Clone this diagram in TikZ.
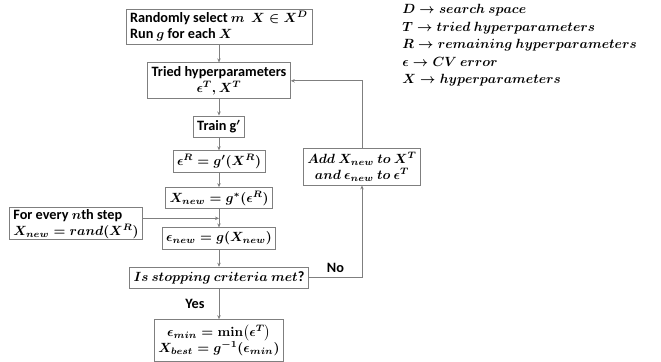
\documentclass[tikz,border=0pt]{standalone}
\usepackage{amsmath,amssymb,bm}
\usepackage[no-math]{fontspec}
\setmainfont[Scale=1.07]{Carlito}
\usetikzlibrary{positioning,calc,arrows.meta}
\definecolor{linegray}{HTML}{7F7F7F}

\begin{document}
\begin{tikzpicture}[x=0.75pt,y=-0.75pt,
  box/.style={draw=linegray,line width=0.6pt,font=\bfseries\boldmath,align=center,
    inner xsep=3pt,inner ysep=1pt,minimum height=16pt},
  arr/.style={draw=linegray,line width=0.6pt,-{Stealth[length=3pt,width=2.6pt]}}]
\useasboundingbox (0,0) rectangle (661,361);
% NODE 1: random initial sample
\node[box,align=left,minimum height=26.25pt] (init) at (219,26.5) {Randomly select $m$\ \ $X\in X^{D}$\\Run $g$ for each $X$};
% NODE 2: tried set
\node[box,minimum height=27pt,below=13.5pt of init] (tried) {Tried hyperparameters\\$\epsilon^{T}, X^{T}$};
% NODE 3: surrogate and its predictions
\node[box,below=12.25pt of tried] (train) {Train g$'$};
\node[box,below=9.5pt of train] (predR) {$\epsilon^{R} = g'(X^{R})$};
\node[box,below=11pt of predR] (pick) {$X_{new} = g^{*}(\epsilon^{R})$};
\node[box,below=13.6pt of pick] (evalnew) {$\epsilon_{new} = g(X_{new})$};
% NODE 4: stopping test and result
\node[box,below=12.9pt of evalnew] (stop) {$Is\ stopping\ criteria\ met$?};
\node[box,minimum height=31.5pt,below=22.75pt of stop] (best) {$\epsilon_{min} = \min\!\big(\epsilon^{T}\big)$\\$X_{best} = g^{-1}(\epsilon_{min})$};
% NODE 5: random step, enters between pick and evalnew
\coordinate (join) at ($(pick.south)!0.5!(evalnew.north)$);
\node[box,align=left,minimum height=23.25pt,left=57pt of join,yshift=-4pt] (rnd) {For every $n$th step\\$X_{new} = rand(X^{R})$};
% NODE 6: update of the tried set
\node[box,font=\boldmath,minimum height=27.75pt] (adder) at (362,166.5) {$Add\ X_{new}\ to\ X^{T}$\\$and\ \epsilon_{new}\ to\ \epsilon^{T}$};
% legend
\node[anchor=north west,align=left,inner sep=0pt,font=\boldmath\fontsize{10.3}{13.2}\selectfont] (legend) at (402,4)
  {$D \rightarrow search\ space$\\$T \rightarrow tried\ hyperparameters$\\$R \rightarrow remaining\ hyperparameters$\\$\epsilon \rightarrow CV\ error$\\$X \rightarrow hyperparameters$};

\draw[arr] (init) -- (tried);
\draw[arr] (tried) -- (train);
\draw[arr] (train) -- (predR);
\draw[arr] (predR) -- (pick);
\draw[arr] (pick) -- (evalnew);
\draw[arr] (rnd.east |- join) -- (join);
\draw[arr] (evalnew) -- (stop);
\draw[arr] (stop) -- node[left=7pt,font=\bfseries]{Yes} (best);
\draw[arr] (stop.east) -- node[above,font=\bfseries]{No} (stop.east -| adder.south) -- (adder.south);
\draw[arr] (adder.north) |- (tried.east);
\end{tikzpicture}
\end{document}
